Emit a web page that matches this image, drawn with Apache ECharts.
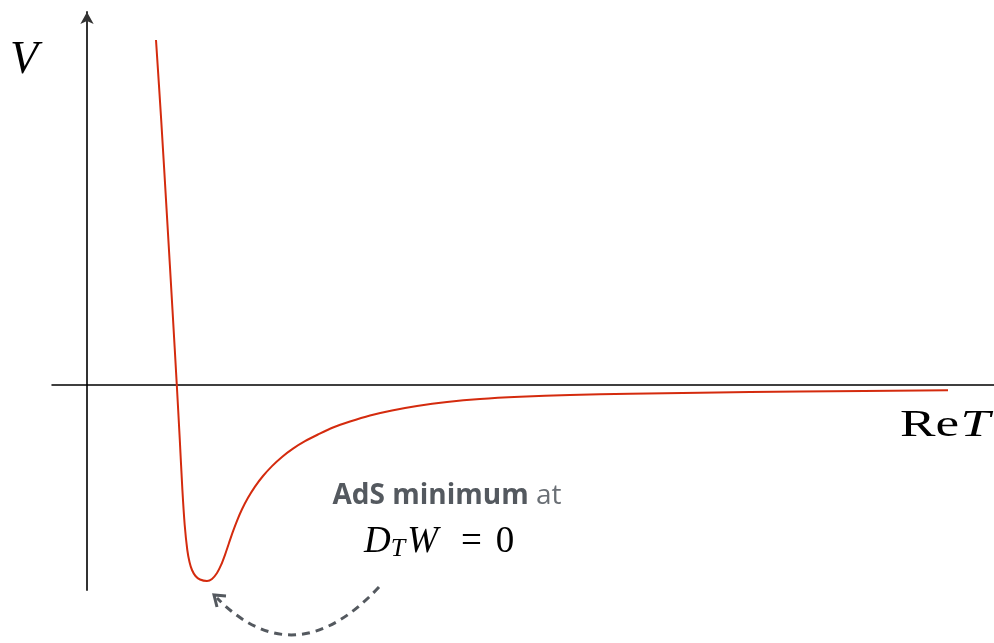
<!DOCTYPE html>
<html>
<head>
<meta charset="utf-8">
<title>AdS minimum potential</title>
<script src="https://cdn.jsdelivr.net/npm/echarts@6/dist/echarts.min.js"></script>
<style>
    html, body { margin: 0; padding: 0; background: #fff; }
    #chart { width: 994px; height: 643px; }
</style>
</head>
<body>
<div id="chart"></div>
<script>
// Potential V(Re T), arbitrary units
const reT = [0.69, 0.742, 0.802, 0.855, 0.898, 0.928, 0.954, 0.977, 1.003, 1.025, 1.05, 1.085, 1.13, 1.20, 1.25, 1.30, 1.34, 1.38, 1.42, 1.46, 1.50, 1.55, 1.61, 1.68, 1.76, 1.85, 1.95, 2.06, 2.18, 2.31, 2.46, 2.63, 2.83, 3.05, 3.30, 3.60, 3.93, 4.33, 4.83, 5.43, 6.13, 7.13, 8.61];
const potential = [3.45, 2.65, 1.65, 0.75, 0, -0.55, -1.05, -1.40, -1.65, -1.77, -1.85, -1.91, -1.945, -1.96, -1.94, -1.88, -1.802, -1.698, -1.58, -1.464, -1.358, -1.243, -1.128, -1.016, -0.91, -0.811, -0.719, -0.636, -0.562, -0.495, -0.425, -0.365, -0.305, -0.255, -0.21, -0.17, -0.14, -0.118, -0.10, -0.088, -0.077, -0.066, -0.053];

const xRange = [-0.35, 9.07];
const yRange = [-2.05, 3.73];

const annotationColor = '#54595f';
const serif = '"Liberation Serif", serif';

const chart = echarts.init(document.getElementById('chart'));

const curve = reT.map((x, i) => [x, potential[i]]);

const option = {
    animation: false,
    grid: { left: 52, right: 0, top: 12, bottom: 53 },
    xAxis: {
        type: 'value',
        min: xRange[0],
        max: xRange[1],
        axisLine: { show: true, onZero: true, lineStyle: { color: '#000', width: 1.5 } },
        axisTick: { show: false },
        axisLabel: { show: false },
        splitLine: { show: false }
    },
    yAxis: {
        type: 'value',
        min: yRange[0],
        max: yRange[1],
        axisLine: {
            show: true,
            onZero: true,
            symbol: ['none', 'arrow'],
            symbolSize: [10, 12],
            lineStyle: { color: '#333', width: 2 }
        },
        axisTick: { show: false },
        axisLabel: { show: false },
        splitLine: { show: false }
    },
    series: [{
        type: 'line',
        data: curve,
        smooth: 0.3,
        showSymbol: false,
        lineStyle: { color: '#d42b0e', width: 2 }
    }],
    graphic: [
        {
            type: 'text',
            x: 10,
            y: 61,
            style: {
                text: 'V',
                font: 'italic 46px ' + serif,
                fill: '#000',
                verticalAlign: 'middle'
            }
        },
        {
            type: 'text',
            x: 990,
            y: 426,
            scaleX: 1.4,
            style: {
                text: '{r|R}{e|e}{i|T}',
                align: 'right',
                verticalAlign: 'middle',
                rich: {
                    r: { font: '38px ' + serif, fill: '#000' },
                    e: { font: '38px ' + serif, fill: '#000', padding: [0, 1, 0, 0] },
                    i: { font: 'italic 38px ' + serif, fill: '#000' }
                }
            }
        },
        {
            type: 'text',
            x: 447,
            y: 496,
            style: {
                text: '{b|AdS minimum}{n| at}',
                align: 'center',
                verticalAlign: 'middle',
                rich: {
                    b: { font: 'bold 28px "Open Sans", sans-serif', fill: annotationColor },
                    n: { font: '28px "Open Sans", sans-serif', fill: '#6a6f75' }
                }
            }
        },
        {
            type: 'text',
            x: 364,
            y: 542,
            style: {
                text: '{i|D}{s|T}{i|W}{op|=}{n|0}',
                align: 'left',
                verticalAlign: 'middle',
                rich: {
                    i: { font: 'italic 37px ' + serif, fill: '#000' },
                    s: { font: 'italic 26px ' + serif, fill: '#000', padding: [14, 2, 0, 0] },
                    op: { font: '37px ' + serif, fill: '#000', padding: [0, 14, 0, 23] },
                    n: { font: '37px ' + serif, fill: '#000' }
                }
            }
        },
        {
            type: 'bezierCurve',
            shape: { x1: 379, y1: 587, cpx1: 295, cpy1: 677, x2: 217, y2: 598 },
            style: { stroke: annotationColor, lineWidth: 3, lineDash: [8, 6], fill: null }
        },
        {
            type: 'polyline',
            shape: { points: [[226, 596], [214, 595], [217, 607]] },
            style: { stroke: annotationColor, lineWidth: 3, fill: null }
        }
    ]
};

chart.setOption(option);
</script>
</body>
</html>
